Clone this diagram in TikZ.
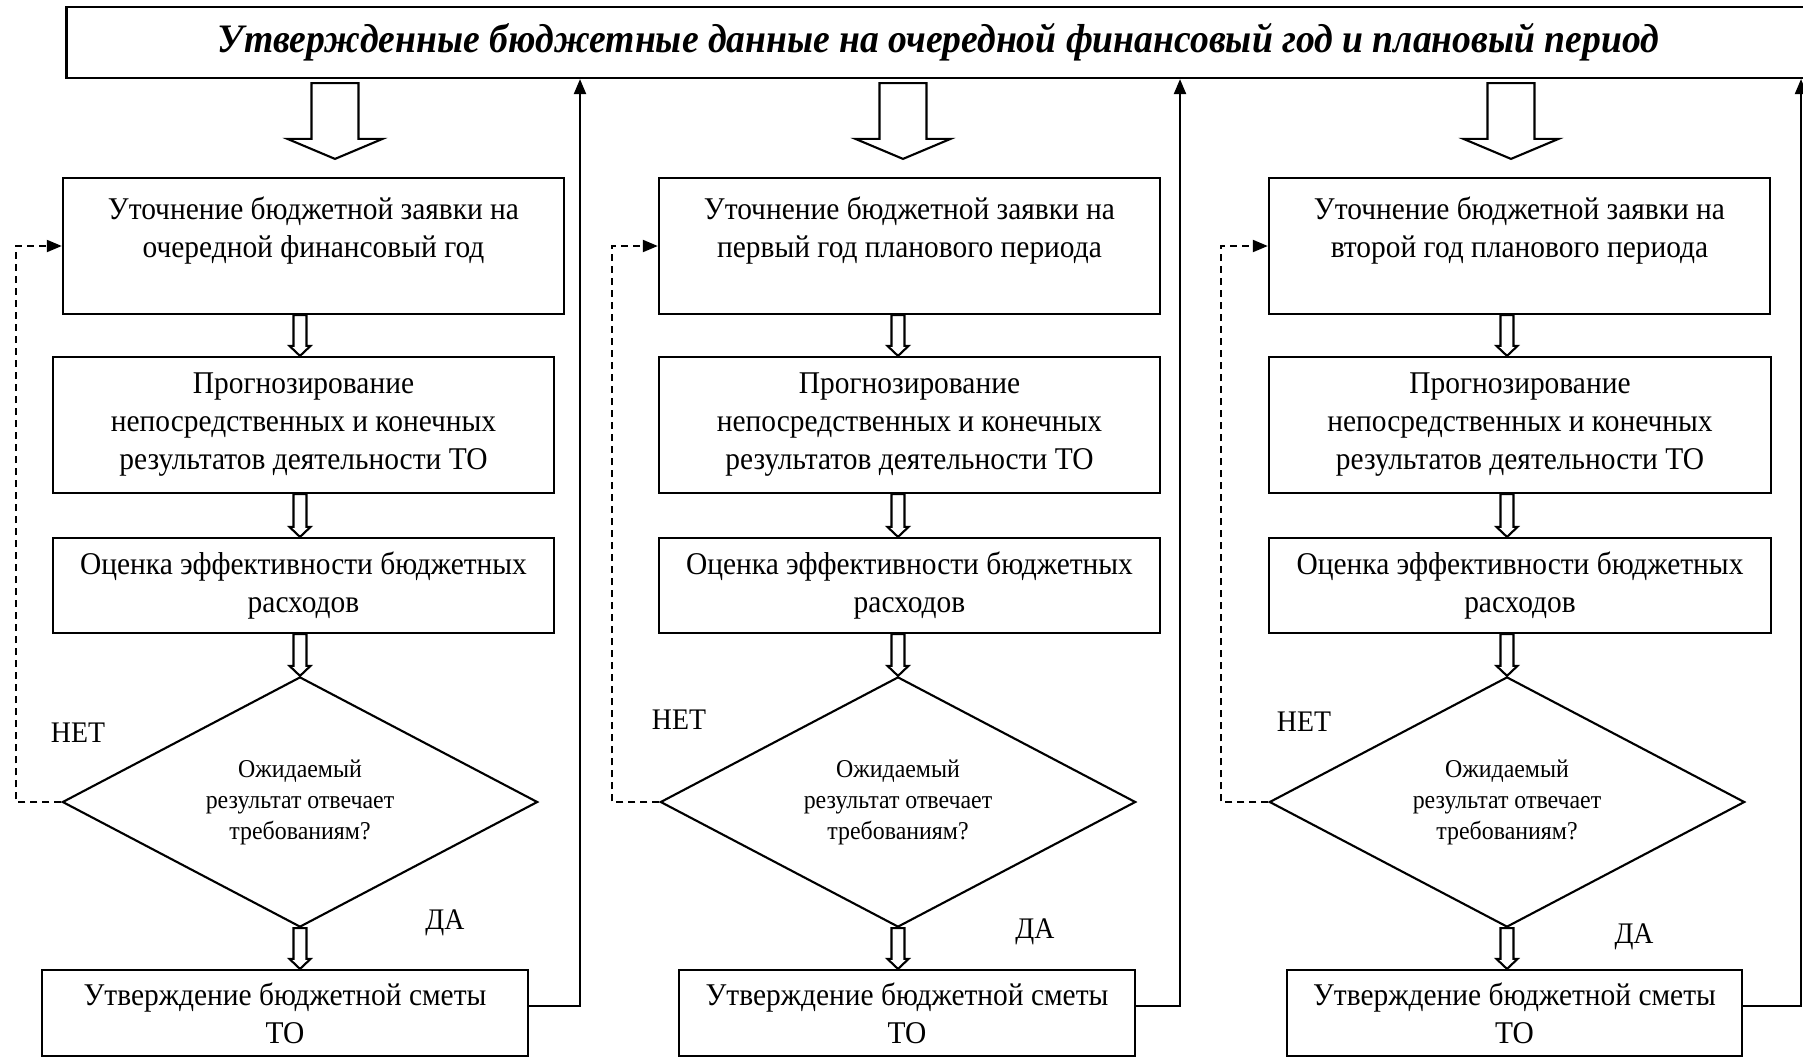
\documentclass[tikz,border=0pt]{standalone}
\usepackage{fontspec}
\setmainfont[FakeStretch=0.93]{Liberation Serif}
\usetikzlibrary{arrows.meta, shapes.geometric, calc}

% hollow block arrow: start, tip, shaft half width, head half width, head length
\newcommand{\hollowarrow}[5]{%
  \draw[fill=white] ($#1+(-#3,0)$) -- ($#2+(-#3,-#5)$) -- ($#2+(-#4,-#5)$) -- ($#2$)
    -- ($#2+(#4,-#5)$) -- ($#2+(#3,-#5)$) -- ($#1+(#3,0)$) -- cycle;}

\begin{document}
\begin{tikzpicture}[x=0.01cm, y=-0.01cm, line width=0.6pt,
    stepbox/.style={draw, align=center, inner sep=0pt, minimum width=5.01cm,
      font=\fontsize{9}{10.8}\selectfont},
    query/.style={draw, diamond, aspect=2, inner sep=0pt, minimum width=4.75cm,
      minimum height=2.5cm, align=center, font=\fontsize{7.3}{8.8}\selectfont},
    answer/.style={font=\fontsize{8.5}{10}\selectfont},
    back/.style={-{Triangle[length=0.15cm, width=0.12cm]}},
    retry/.style={back, dash pattern=on 0.07cm off 0.05cm}]
  \useasboundingbox (0,0) rectangle (1803,1057);
  \clip (0,0) rectangle (1803,1057);

  \node[draw, minimum width=17.43cm, minimum height=0.71cm, inner sep=0pt,
    font=\fontsize{11.5}{13}\selectfont\bfseries\itshape] (top) at (938.5,42.5)
    {Утвержденные бюджетные данные на очередной финансовый год и плановый период};

  \foreach \bx/\mx/\ax/\gx/\ex/\ew/\rx/\lx/\nx/\ny/\dx/\dy/\txt [count=\i] in {
      313.5/303.5/300/335/285/4.86/580/16/78/733/445/923/{очередной финансовый год},
      909.5/909.5/898/903/907/4.56/1180/612/679/720/1035/932/{первый год планового периода},
      1519.5/1520/1507/1511/1514.5/4.55/1801/1221/1304/722/1634/937/{второй год планового периода}} {
    \coordinate (a\i) at (\ax,0);
    \coordinate (g\i) at (\gx,0);
    \coordinate (r\i) at (\rx,0);
    \coordinate (l\i) at (\lx,0);
    \node[stepbox, minimum height=1.36cm] (b1-\i) at (\bx,246)
      {Уточнение бюджетной заявки на\\\txt\\~};
    \node[stepbox, minimum height=1.36cm] (b2-\i) at (\mx,425)
      {Прогнозирование\\непосредственных и конечных\\результатов деятельности ТО};
    \node[stepbox, minimum height=0.95cm] (b3-\i) at (\mx,585.5)
      {Оценка эффективности бюджетных\\расходов};
    \node[query] (d\i) at (\ax,802) {Ожидаемый\\результат отвечает\\требованиям?};
    \node[stepbox, minimum width=\ew cm, minimum height=0.86cm] (b4-\i) at (\ex,1013)
      {Утверждение бюджетной сметы\\ТО};
    \node[answer] (no\i) at (\nx,\ny) {НЕТ};
    \node[answer] (yes\i) at (\dx,\dy) {ДА};
    % arrows down the column
    \hollowarrow{(top.south -| g\i)+(0,4)}{(b1-\i.north -| g\i)+(0,-18)}{23.5}{47.5}{20}
    \hollowarrow{(b1-\i.south -| a\i)}{(b2-\i.north -| a\i)}{6.5}{10.5}{10}
    \hollowarrow{(b2-\i.south -| a\i)}{(b3-\i.north -| a\i)}{6.5}{10.5}{10}
    \hollowarrow{(b3-\i.south -| a\i)}{(d\i.north)}{6.5}{10.5}{10}
    \hollowarrow{(d\i.south)}{(b4-\i.north -| a\i)}{6.5}{10.5}{10}
    % back to the top and round again
    \draw[back] ([yshift=0.07cm]b4-\i.east) -| (r\i |- top.south);
    \draw[retry] (d\i.west) -| (l\i |- b1-\i.west) -- (b1-\i.west);
  }
\end{tikzpicture}
\end{document}
